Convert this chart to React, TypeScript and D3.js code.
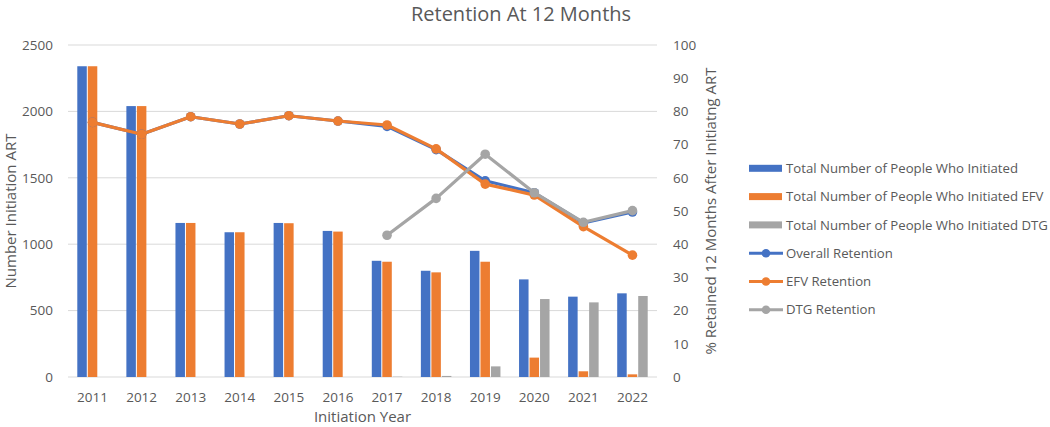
import React from "react";
import * as d3 from "d3";

const years = ["2011", "2012", "2013", "2014", "2015", "2016", "2017", "2018", "2019", "2020", "2021", "2022"];
const totalInitiated = [2340, 2040, 1160, 1090, 1160, 1100, 875, 800, 950, 735, 605, 630];
const efvInitiated = [2340, 2040, 1160, 1090, 1158, 1095, 868, 788, 868, 146, 43, 20];
const dtgInitiated = [0, 0, 0, 0, 0, 0, 2, 8, 80, 587, 562, 610];
const overallRetention = [76.7, 73.1, 78.4, 76.2, 78.7, 77.1, 75.5, 68.5, 59.1, 55.5, 46.4, 49.7];
const efvRetention = [76.7, 73.1, 78.4, 76.2, 78.7, 77.1, 75.9, 68.7, 58.1, 54.8, 45.3, 36.7];
const dtgRetention = [null, null, null, null, null, null, 42.7, 53.8, 67.1, 55.5, 46.6, 50.1];
const leftTicks = [0, 500, 1000, 1500, 2000, 2500];
const rightTicks = [0, 10, 20, 30, 40, 50, 60, 70, 80, 90, 100];

const BLUE = "#4472C4";
const ORANGE = "#ED7D31";
const GREY = "#A5A5A5";
const TEXT = "#595959";
const GRID = "#D9D9D9";
const FONT = "'Open Sans', 'Noto Sans', sans-serif";

const W = 1050;
const H = 427;
const plot = { left: 68, right: 657, top: 45, bottom: 377 };

export default function App() {
  const x = d3.scaleBand<string>().domain(years).range([plot.left, plot.right]);
  const yLeft = d3.scaleLinear().domain([0, 2500]).range([plot.bottom, plot.top]);
  const yRight = d3.scaleLinear().domain([0, 100]).range([plot.bottom, plot.top]);
  const cx = (yr: string) => (x(yr) ?? 0) + x.bandwidth() / 2;

  const barW = 9.5;
  const pitch = 10.5;
  const barSeries = [
    { values: totalInitiated, color: BLUE, offset: -1 },
    { values: efvInitiated, color: ORANGE, offset: 0 },
    { values: dtgInitiated, color: GREY, offset: 1 },
  ];

  const lineSeries = [
    { values: overallRetention, color: BLUE },
    { values: efvRetention, color: ORANGE },
    { values: dtgRetention, color: GREY },
  ];

  const line = d3
    .line<{ yr: string; v: number | null }>()
    .defined((d) => d.v != null)
    .x((d) => cx(d.yr))
    .y((d) => yRight(d.v as number));

  const legend = [
    { label: "Total Number of People Who Initiated", color: BLUE, kind: "bar" },
    { label: "Total Number of People Who Initiated EFV", color: ORANGE, kind: "bar" },
    { label: "Total Number of People Who Initiated DTG", color: GREY, kind: "bar" },
    { label: "Overall Retention", color: BLUE, kind: "line" },
    { label: "EFV Retention", color: ORANGE, kind: "line" },
    { label: "DTG Retention", color: GREY, kind: "line" },
  ];

  return (
    <svg
      width={W}
      height={H}
      style={{ position: "absolute", left: 0, top: 0, background: "#fff" }}
      fontFamily={FONT}
    >
      <rect width={W} height={H} fill="#fff" />
      <text x={521} y={21} textAnchor="middle" fontSize={20} fill={TEXT}>
        Retention At 12 Months
      </text>

      {leftTicks.map((t) => (
        <g key={"g" + t}>
          <line x1={plot.left} x2={plot.right} y1={yLeft(t)} y2={yLeft(t)} stroke={GRID} strokeWidth={1} />
          <text x={53} y={yLeft(t)} dy="0.35em" textAnchor="end" fontSize={13.5} fill={TEXT}>
            {t}
          </text>
        </g>
      ))}
      {rightTicks.map((t) => (
        <text key={"r" + t} x={673} y={yRight(t)} dy="0.35em" textAnchor="start" fontSize={13.5} fill={TEXT}>
          {t}
        </text>
      ))}

      {barSeries.map((s, si) =>
        s.values.map((v, i) => {
          const c = cx(years[i]) + s.offset * pitch;
          return (
            <rect
              key={`b${si}-${i}`}
              x={c - barW / 2}
              y={yLeft(v)}
              width={barW}
              height={plot.bottom - yLeft(v)}
              fill={s.color}
            />
          );
        })
      )}

      {lineSeries.map((s, si) => {
        const pts = s.values.map((v, i) => ({ yr: years[i], v }));
        return (
          <g key={"l" + si}>
            <path d={line(pts) ?? ""} fill="none" stroke={s.color} strokeWidth={3.2} strokeLinejoin="round" />
            {pts
              .filter((p) => p.v != null)
              .map((p) => (
                <circle key={p.yr} cx={cx(p.yr)} cy={yRight(p.v as number)} r={4.8} fill={s.color} />
              ))}
          </g>
        );
      })}

      {years.map((yr) => (
        <text key={"x" + yr} x={cx(yr)} y={397} dy="0.35em" textAnchor="middle" fontSize={13.5} fill={TEXT}>
          {yr}
        </text>
      ))}
      <text x={(plot.left + plot.right) / 2} y={422} textAnchor="middle" fontSize={15} fill={TEXT}>
        Initiation Year
      </text>
      <text
        transform={`translate(11,${(plot.top + plot.bottom) / 2}) rotate(-90)`}
        textAnchor="middle"
        dy="0.35em"
        fontSize={15}
        fill={TEXT}
      >
        Number Initiation ART
      </text>
      <text
        transform={`translate(711,${(plot.top + plot.bottom) / 2}) rotate(-90)`}
        textAnchor="middle"
        dy="0.35em"
        fontSize={15}
        fill={TEXT}
      >
        % Retained 12 Months After Initiatng ART
      </text>

      {legend.map((l, i) => {
        const y = 168.3 + i * 28.3;
        return (
          <g key={"lg" + i}>
            {l.kind === "bar" ? (
              <rect x={749} y={y - 3.5} width={33} height={7} fill={l.color} />
            ) : (
              <g>
                <line x1={749} x2={783} y1={y} y2={y} stroke={l.color} strokeWidth={3} />
                <circle cx={766} cy={y} r={4.3} fill={l.color} />
              </g>
            )}
            <text x={786} y={y} dy="0.35em" fontSize={13.2} fill={TEXT}>
              {l.label}
            </text>
          </g>
        );
      })}
    </svg>
  );
}
